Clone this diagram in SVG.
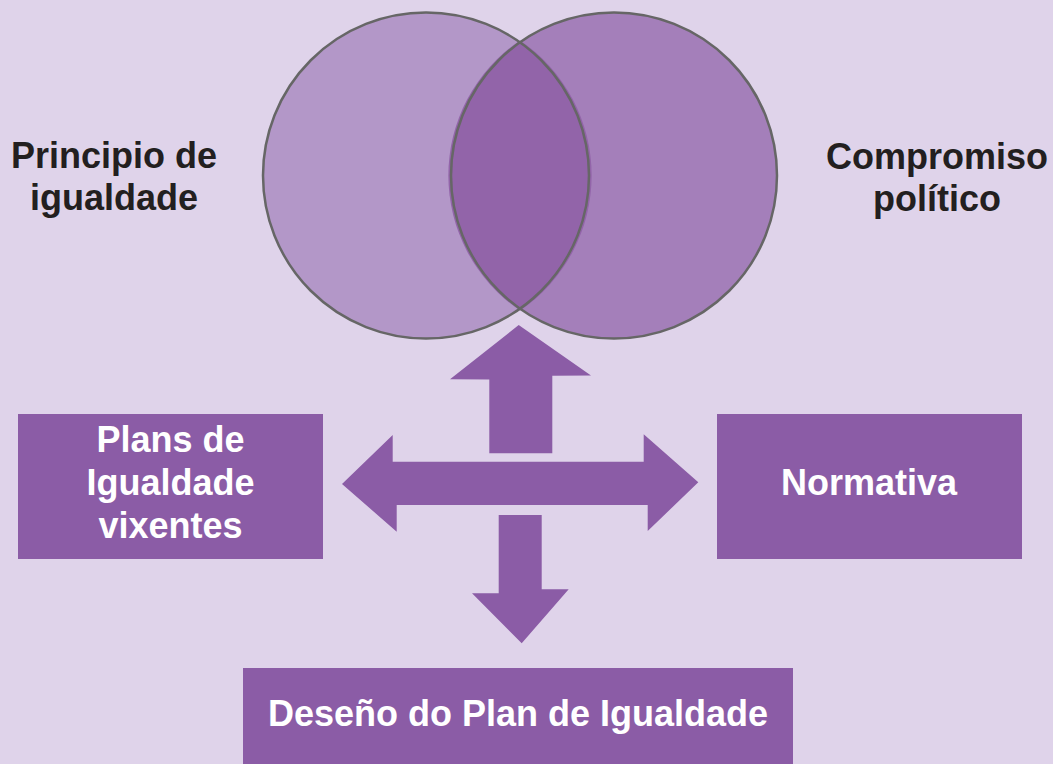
<svg xmlns="http://www.w3.org/2000/svg" width="1053" height="764" viewBox="0 0 1053 764">
<style>
.lbl{font-family:"Liberation Sans",Arial,sans-serif;font-weight:bold;font-size:36px;fill:#231F20;text-anchor:middle}
.wt{font-family:"Liberation Sans",Arial,sans-serif;font-weight:bold;font-size:36px;fill:#FFFFFF;text-anchor:middle}
.box{fill:#8B5CA6}
.arr{fill:#8B5CA6}
.ring{fill:none;stroke:#666666;stroke-width:2.5}
</style>
<rect x="0" y="0" width="1053" height="764" fill="#DFD3EA"/>
<g id="venn">
<circle cx="426" cy="175.5" r="163" fill="#B397C8"/>
<circle cx="614" cy="175.5" r="163" fill="#A47FBA"/>
<path d="M520 40.5 A163 163 0 0 1 520 310.5 A163 163 0 0 1 520 40.5 Z" fill="#9264A9"/>
<circle class="ring" cx="426" cy="175.5" r="163"/>
<circle class="ring" cx="614" cy="175.5" r="163"/>
</g>
<g id="label-principio">
<text class="lbl" x="114" y="168">Principio de</text>
<text class="lbl" x="114" y="210">igualdade</text>
</g>
<g id="label-compromiso">
<text class="lbl" x="937" y="169">Compromiso</text>
<text class="lbl" x="937" y="211">político</text>
</g>
<g id="connectors">
<polygon class="arr" points="518.7,325 591,375.5 552.3,375.7 552.3,453.3 489.3,453.3 489.3,379.5 450,379.3"/>
<polygon class="arr" points="342,484 392.7,435 392.7,461.7 643.7,461.7 643.7,434.3 698.3,482.3 647.7,531 647.7,505 396.7,505 396.7,531.7"/>
<polygon class="arr" points="498.7,515 541.7,515 541.7,589.3 568.7,589.3 521.7,643.3 472,593.3 498.7,593.3"/>
</g>
<g id="node-plans">
<rect class="box" x="18" y="414" width="305" height="145"/>
<text class="wt" x="170.5" y="452">Plans de</text>
<text class="wt" x="170.5" y="495">Igualdade</text>
<text class="wt" x="170.5" y="538">vixentes</text>
</g>
<g id="node-normativa">
<rect class="box" x="717" y="414" width="305" height="145"/>
<text class="wt" x="869" y="495">Normativa</text>
</g>
<g id="node-desenho">
<rect class="box" x="243" y="668" width="550" height="96"/>
<text class="wt" x="518" y="726">Deseño do Plan de Igualdade</text>
</g>
</svg>
